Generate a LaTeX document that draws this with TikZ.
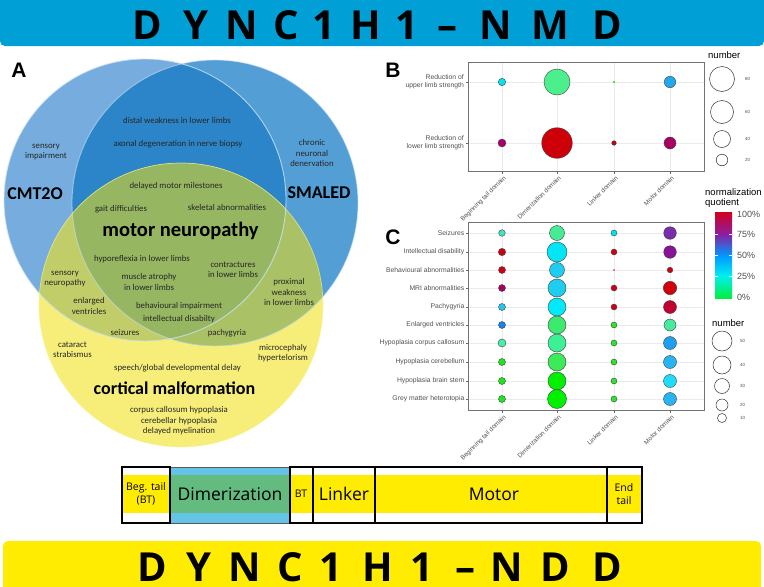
\documentclass[tikz,border=0pt]{standalone}
\usepackage{fontspec}
\setmainfont{Carlito}
\newfontfamily\tfont{Open Sans}
\newfontfamily\pfont{Liberation Sans}
\newcommand\fs[2]{\fontsize{#1}{#2}\selectfont}
\definecolor{topblue}{RGB}{0,160,214}
\definecolor{botyel}{RGB}{255,236,0}
\definecolor{vL}{RGB}{118,173,222}
\definecolor{vR}{RGB}{84,158,214}
\definecolor{vD}{RGB}{44,133,200}
\definecolor{vY}{RGB}{247,238,122}
\definecolor{vLY}{RGB}{193,205,105}
\definecolor{vRY}{RGB}{170,193,102}
\definecolor{vC}{RGB}{150,182,98}
\definecolor{vEdge}{RGB}{205,228,246}
\definecolor{domyel}{RGB}{255,236,0}
\definecolor{dimblue}{RGB}{100,195,230}
\definecolor{dimgreen}{RGB}{100,187,128}
\definecolor{gridc}{RGB}{235,235,235}
\definecolor{axtxt}{RGB}{80,80,80}
\definecolor{tinyg}{RGB}{0,230,0}
\definecolor{tinyr}{RGB}{220,0,20}
\newcommand\bub[6]{\filldraw[bubble,fill={rgb,255:red,#4;green,#5;blue,#6}] (#1,#2) circle[radius=#3];}
\tikzset{
  vtxt/.style={font=\fs{8.8}{10.4}, align=center, text=black!85, inner sep=0},
  vbig/.style={font=\bfseries\fs{18}{20}, text=black, inner sep=0},
  plet/.style={font=\pfont\bfseries\fs{21}{21}, inner sep=0},
  ylab/.style={font=\pfont\fs{6.8}{7.6}, text=axtxt, align=right, anchor=east, inner sep=0},
  xlab/.style={font=\pfont\fs{6.4}{7}, text=axtxt, anchor=north east, rotate=45, inner sep=0},
  bubble/.style={draw=black!75, line width=0.4},
  frame/.style={draw=black!55, line width=0.6},
  grid/.style={draw=gridc, line width=0.6},
  legc/.style={draw=black!80, line width=0.5, fill=white},
  legt/.style={font=\pfont\fs{4.5}{5}, text=axtxt, anchor=west, inner sep=0},
  legh/.style={font=\pfont\fs{9.5}{10.5}, anchor=west, inner sep=0, align=left},
  ttl/.style={font=\tfont\bfseries\fs{40}{40}, anchor=base, inner sep=0},
  dombox/.style={draw=black, line width=1.6},
  domt/.style={font=\tfont, inner sep=0, align=center, text=black}
}
\begin{document}
\begin{tikzpicture}[x=1pt,y=-1pt]
\useasboundingbox (0,0) rectangle (764,587);
% ---------- title bars
\fill[topblue, rounded corners=5] (0,-10) rectangle (764,46);
\fill[botyel, rounded corners=5] (3,541) rectangle (761,597);
\foreach \x/\c [count=\i] in {147/D,196/Y,242/N,286/C,324/1,366/H,407/1,447/–,496/N,550/M,607/D}
  \node[ttl] (ta\i) at (\x,39) {\c};
\foreach \x/\c [count=\i] in {152/D,199/Y,245/N,290/C,331/1,378/H,422/1,465/–,507/N,555/D,607/D}
  \node[ttl] (tb\i) at (\x,581) {\c};
% ---------- Venn
\fill[vY] (181,305) circle[radius=142];
\fill[vL] (145,200) circle[radius=141];
\fill[vR] (215,203) circle[radius=143];
\begin{scope}
  \clip (145,200) circle[radius=141];
  \fill[vD] (215,203) circle[radius=143];
  \fill[vLY] (181,305) circle[radius=142];
\end{scope}
\begin{scope}
  \clip (215,203) circle[radius=143];
  \fill[vRY] (181,305) circle[radius=142];
  \clip (145,200) circle[radius=141];
  \fill[vC] (181,305) circle[radius=142];
\end{scope}
\draw[vEdge, line width=0.9, opacity=0.8] (145,200) circle[radius=141];
\draw[vEdge, line width=0.9, opacity=0.6] (215,203) circle[radius=143];
\draw[vY!80!white, line width=0.7, opacity=0.7] (181,305) circle[radius=142];
\node[plet] (lA) at (19,70) {A};
\node[vtxt] (v1) at (177,120) {distal weakness in lower limbs};
\node[vtxt] (v2) at (178,144) {axonal degeneration in nerve biopsy};
\node[vtxt] (v3) at (46,152) {sensory\\impairment};
\node[vtxt] (v4) at (312,153) {chronic\\neuronal\\denervation};
\node[vbig] (v5) at (35,194) {CMT2O};
\node[vbig] (v6) at (319,193) {SMALED};
\node[vtxt] (v7) at (176,186) {delayed motor milestones};
\node[vtxt] (v8) at (121,209) {gait difficulties};
\node[vtxt] (v9) at (227,207) {skeletal abnormalities};
\node[vbig, font=\bfseries\fs{20.5}{22}] (v10) at (180.5,231) {motor neuropathy};
\node[vtxt] (v11) at (142,259) {hyporeflexia in lower limbs};
\node[vtxt] (v12) at (233,270) {contractures\\in lower limbs};
\node[vtxt] (v13) at (289,292) {proximal\\weakness\\in lower limbs};
\node[vtxt] (v14) at (65,279) {sensory\\neuropathy};
\node[vtxt] (v15) at (149,282) {muscle atrophy\\in lower limbs};
\node[vtxt] (v16) at (89,306) {enlarged\\ventricles};
\node[vtxt] (v17) at (179,306) {behavioural impairment};
\node[vtxt] (v18) at (179,319) {intellectual disabilty};
\node[vtxt] (v19) at (125,332) {seizures};
\node[vtxt] (v20) at (227,333) {pachygyria};
\node[vtxt] (v21) at (72.5,350) {cataract\\strabismus};
\node[vtxt] (v22) at (283,353) {microcephaly\\hypertelorism};
\node[vtxt] (v23) at (177.5,368) {speech/global developmental delay};
\node[vbig] (v24) at (174.5,388) {cortical malformation};
\node[vtxt] (v25) at (179,421) {corpus callosum hypoplasia\\cerebellar hypoplasia\\delayed myelination};
% ---------- Panel B
\node[plet] (lB) at (393,70) {B};
\foreach \x in {502,557,614,670} \draw[grid] (\x,62) -- (\x,171);
\foreach \y in {82,143} \draw[grid] (468,\y) -- (704,\y);
\draw[frame] (468,62) rectangle (704,171);
\foreach \x in {502,557,614,670} \draw[black!60, line width=0.5] (\x,171) -- (\x,173.5);
\foreach \y in {82,143} \draw[black!60, line width=0.5] (468,\y) -- (465.5,\y);
\node[ylab] (by1) at (464,82) {Reduction of\\upper limb strength};
\node[ylab] (by2) at (464,143) {Reduction of\\lower limb strength};
\node[xlab] (bx1) at (503,175) {Beginning tail domain};
\node[xlab] (bx2) at (558,175) {Dimerization domain};
\node[xlab] (bx3) at (615,175) {Linker domain};
\node[xlab] (bx4) at (671,175) {Motor domain};
\bub{502}{82}{3.7}{0}{230}{240}
\bub{557}{82}{13}{75}{240}{140}
\fill[tinyg] (614,82) circle[radius=1.1];
\bub{670}{82}{5.7}{30}{170}{240}
\bub{502}{143}{4}{170}{0}{110}
\bub{557}{143}{15.3}{205}{0}{10}
\bub{614}{143}{2.3}{200}{0}{20}
\bub{670}{143}{6}{170}{0}{100}
% legend B
\node[legh] (bnum) at (708,55) {number};
\draw[legc] (722,79) circle[radius=12.5];
\draw[legc] (722,112) circle[radius=11.5];
\draw[legc] (722,139) circle[radius=8.5];
\draw[legc] (722,160) circle[radius=5.8];
\node[legt] (bl1) at (745,79) {80};
\node[legt] (bl2) at (745,112) {60};
\node[legt] (bl3) at (745,139) {40};
\node[legt] (bl4) at (745,160) {20};
% colour bar
\node[legh] (nq) at (705,198) {normalization\\quotient};
\shade[bottom color={rgb,255:red,0;green,240;blue,60}, top color={rgb,255:red,0;green,240;blue,240}] (715,276) rectangle (732,298);
\shade[bottom color={rgb,255:red,0;green,240;blue,240}, top color={rgb,255:red,0;green,150;blue,255}] (715,255) rectangle (732,276.2);
\shade[bottom color={rgb,255:red,0;green,150;blue,255}, top color={rgb,255:red,140;green,30;blue,160}] (715,234) rectangle (732,255.2);
\shade[bottom color={rgb,255:red,140;green,30;blue,160}, top color={rgb,255:red,210;green,0;blue,30}] (715,212) rectangle (732,234.2);
\foreach \y in {234,255,276} {\draw[white, line width=0.5] (715,\y) -- (718,\y); \draw[white, line width=0.5] (729,\y) -- (732,\y);}
\node[legt, font=\pfont\fs{9}{10}] (q1) at (737,214) {100\%};
\node[legt, font=\pfont\fs{9}{10}] (q2) at (737,234) {75\%};
\node[legt, font=\pfont\fs{9}{10}] (q3) at (737,255) {50\%};
\node[legt, font=\pfont\fs{9}{10}] (q4) at (737,276) {25\%};
\node[legt, font=\pfont\fs{9}{10}] (q5) at (737,297) {0\%};
% ---------- Panel C
\node[plet] (lC) at (393,237) {C};
\foreach \x in {502,557,614,670} \draw[grid] (\x,222) -- (\x,410);
\foreach \y in {233,252,270,288,307,325,343,362,381,399} \draw[grid] (468,\y) -- (704,\y);
\draw[frame] (468,222) rectangle (704,410);
\foreach \x in {502,557,614,670} \draw[black!60, line width=0.5] (\x,410) -- (\x,412.5);
\foreach \y in {233,252,270,288,307,325,343,362,381,399} \draw[black!60, line width=0.5] (468,\y) -- (465.5,\y);
\foreach \y/\t [count=\i] in {233/Seizures,252/Intellectual disability,270/Behavioural abnormalities,288/MRI abnormalities,307/Pachygyria,325/Enlarged ventricles,343/Hypoplasia corpus callosum,362/Hypoplasia cerebellum,381/Hypoplasia brain stem,399/Grey matter heterotopia}
  \node[ylab] (cy\i) at (464.5,\y) {\t};
\node[xlab] (cx1) at (503,414) {Beginning tail domain};
\node[xlab] (cx2) at (558,414) {Dimerization domain};
\node[xlab] (cx3) at (615,414) {Linker domain};
\node[xlab] (cx4) at (671,414) {Motor domain};
% rows
\bub{502}{233}{3.3}{60}{230}{190} \bub{557}{233}{7.5}{70}{235}{150} \bub{614}{233}{3}{0}{225}{245} \bub{670}{233}{6.3}{120}{45}{170}
\bub{502}{252}{3.7}{205}{0}{20} \bub{557}{252}{10}{0}{230}{245} \bub{614}{252}{3}{205}{0}{20} \bub{670}{252}{6.3}{135}{20}{150}
\bub{502}{270}{3.5}{205}{0}{20} \bub{557}{270}{7.5}{30}{205}{240} \fill[tinyr] (614,270) circle[radius=0.8]; \bub{670}{270}{2.8}{205}{0}{20}
\bub{502}{288}{3.5}{165}{0}{100} \bub{557}{288}{9}{30}{205}{240} \bub{614}{288}{3}{205}{0}{20} \bub{670}{288}{6.7}{210}{0}{10}
\bub{502}{307}{3.5}{40}{195}{240} \bub{557}{307}{9}{0}{235}{250} \bub{614}{307}{3}{205}{0}{30} \bub{670}{307}{6.5}{195}{0}{50}
\bub{502}{325}{3.5}{20}{130}{240} \bub{557}{325}{9}{60}{235}{110} \bub{614}{325}{3}{40}{230}{40} \bub{670}{325}{6}{70}{235}{160}
\bub{502}{343}{4}{70}{240}{170} \bub{557}{343}{9}{60}{240}{150} \bub{614}{343}{3}{40}{230}{40} \bub{670}{343}{6.5}{30}{160}{240}
\bub{502}{362}{3.5}{30}{230}{30} \bub{557}{362}{9}{60}{235}{90} \bub{614}{362}{3}{40}{230}{40} \bub{670}{362}{6.5}{40}{180}{240}
\bub{502}{381}{3.5}{30}{230}{30} \bub{557}{381}{9}{0}{240}{0} \bub{614}{381}{3}{40}{230}{40} \bub{670}{381}{6.5}{30}{220}{250}
\bub{502}{399}{3.5}{30}{230}{30} \bub{557}{399}{9.5}{0}{240}{0} \bub{614}{399}{3}{40}{230}{40} \bub{670}{399}{6.5}{40}{180}{240}
% legend C
\node[legh] (cnum) at (712,323) {number};
\draw[legc] (722,341) circle[radius=10];
\draw[legc] (722,365) circle[radius=9];
\draw[legc] (722,386) circle[radius=7.5];
\draw[legc] (722,405) circle[radius=6];
\draw[legc] (722,418) circle[radius=4.5];
\node[legt] (cl1) at (740,341) {50};
\node[legt] (cl2) at (740,365) {40};
\node[legt] (cl3) at (740,386) {30};
\node[legt] (cl4) at (740,405) {20};
\node[legt] (cl5) at (740,418) {10};
% ---------- domain bar
\fill[white] (122,467) rectangle (642,523);
\fill[domyel] (122,475) rectangle (642,513);
\fill[dimblue] (170,467) rectangle (289,523);
\fill[dimgreen] (170,475) rectangle (289,513);
\draw[black!65, line width=1] (170,467) rectangle (289,523);
\draw[dombox] (122,467) rectangle (170,523);
\draw[dombox] (290,467) rectangle (312.5,523);
\draw[dombox] (313.5,467) rectangle (374.5,523);
\draw[dombox] (375.5,467) rectangle (607,523);
\draw[dombox] (607,467) rectangle (642,523);
\node[domt, font=\tfont\fs{10.5}{12.5}] (d1) at (146,494) {Beg. tail\\(BT)};
\node[domt, font=\tfont\fs{17.5}{19}] (d2) at (230,494) {Dimerization};
\node[domt, font=\tfont\fs{10.5}{12.5}] (d3) at (301,494) {BT};
\node[domt, font=\tfont\fs{17.5}{19}] (d4) at (344,494) {Linker};
\node[domt, font=\tfont\fs{17.5}{19}] (d5) at (494,494) {Motor};
\node[domt, font=\tfont\fs{10.5}{12.5}] (d6) at (624,494) {End\\tail};
\end{tikzpicture}
\end{document}
